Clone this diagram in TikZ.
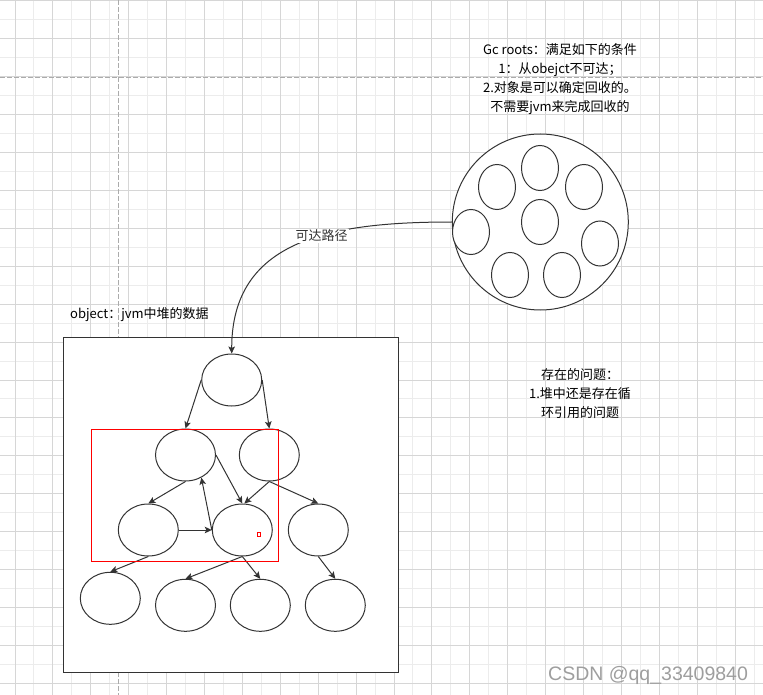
\documentclass[tikz,border=0pt]{standalone}
\usepackage{fontspec}
\setmainfont{Noto Sans CJK SC}
\newfontfamily\wmfont{Liberation Sans}
\usepackage{tikz}
\usetikzlibrary{shapes.geometric, arrows.meta, positioning}
\definecolor{griddark}{HTML}{D6D6D6}
\definecolor{gridlight}{HTML}{ECECEC}
\definecolor{pageline}{HTML}{ABABAB}
\definecolor{ink}{HTML}{333333}
\definecolor{selred}{HTML}{FF0000}

\begin{document}
\begin{tikzpicture}[x=1pt, y=-1pt,
  obj/.style={ellipse, draw=ink, fill=white, line width=1pt, minimum width=60pt, minimum height=52pt, inner sep=0pt},
  gcobj/.style={ellipse, draw=ink, fill=white, line width=1pt, minimum width=37pt, minimum height=45pt, inner sep=0pt},
  arrow/.style={-{Stealth[length=7pt, width=6.5pt, inset=1.5pt]}, line width=1pt, ink},
  note/.style={font=\fontsize{13}{19}\selectfont, align=center, inner sep=0pt},
  edgelabel/.style={font=\fontsize{13}{19}\selectfont, fill=white, inner sep=1pt}
]
  \fill[white] (0,0) rectangle (763,695);
  \useasboundingbox (0,0) rectangle (763,695);
  \foreach \k in {1,3,...,39} \draw[gridlight, line width=1pt] ({15+18.95*\k},0) -- ({15+18.95*\k},695);
  \foreach \k in {1,3,...,35} \draw[gridlight, line width=1pt] (0,{1+18.95*\k}) -- (763,{1+18.95*\k});
  \foreach \k in {0,2,...,38} \draw[griddark, line width=1pt] ({15+18.95*\k},0) -- ({15+18.95*\k},695);
  \foreach \k in {0,2,...,36} \draw[griddark, line width=1pt] (0,{1+18.95*\k}) -- (763,{1+18.95*\k});
  \draw[pageline, line width=1pt, dash pattern=on 5pt off 2pt] (118.3,0) -- (118.3,695);
  \draw[pageline, line width=1pt, dash pattern=on 5pt off 2pt] (0,77.3) -- (763,77.3);

  \node[draw=ink, fill=white, line width=1pt, minimum width=335pt, minimum height=335pt, inner sep=0pt] (heap) at (230.8,504.8) {};
  \node[circle, draw=ink, fill=white, line width=1pt, minimum size=176pt, inner sep=0pt] (gcroots) at (540.3,222) {};
  \node[gcobj] (gc1) at (540,168) {};
  \node[gcobj] (gc2) at (497,187) {};
  \node[gcobj] (gc3) at (584,187) {};
  \node[gcobj] (gc4) at (540,222) {};
  \node[gcobj] (gc5) at (471,232) {};
  \node[gcobj] (gc6) at (600,243.5) {};
  \node[gcobj] (gc7) at (510,275) {};
  \node[gcobj] (gc8) at (562,275) {};

  \node[obj] (root) at (231.7,380) {};
  \node[obj] (l1a) at (185.5,455) {};
  \node[obj] (l1b) at (269.3,455) {};
  \node[obj] (l2a) at (148.3,530) {};
  \node[obj] (l2b) at (242.3,530) {};
  \node[obj] (l2c) at (318.3,530) {};
  \node[obj] (l3a) at (110.3,598.3) {};
  \node[obj] (l3b) at (185.5,605.3) {};
  \node[obj] (l3c) at (260.3,605.3) {};
  \node[obj] (l3d) at (335.3,605.3) {};

  \draw[arrow] (gcroots.west) .. controls (330,222) and (231.7,240) .. node[pos=0.4, edgelabel] {可达路径} (root.north);
  \draw[arrow] (root.west) -- (l1a.north);
  \draw[arrow] (root.east) -- (l1b.north);
  \draw[arrow] (l1a.east) -- (l2b.north);
  \draw[arrow] (l1b.south) -- ([xshift=2pt]l2b.north);
  \draw[arrow] (l1b.south) -- (l2c.north);
  \draw[arrow] (l1a.south) -- (l2a.north);
  \draw[arrow] (l2b.west) -- (l1a.-55);
  \draw[arrow] (l2a.east) -- (l2b.west);
  \draw[arrow] (l2a.south) -- (l3a.north);
  \draw[arrow] (l2b.south) -- (l3b.north);
  \draw[arrow] (l2b.south) -- (l3c.north);
  \draw[arrow] (l2c.south) -- (l3d.north);

  \draw[selred, line width=1pt] (91.3,429.3) rectangle (278.3,561);
  \draw[selred, line width=0.8pt, fill=white] (257.3,532.6) rectangle (260.7,536);

  \node[note] (gctext) at (560,79) {Gc roots：满足如下的条件\\1：从obejct不可达；\\2.对象是可以确定回收的。\\不需要jvm来完成回收的};
  \node[note, anchor=west] (heaptext) at (70,315) {object：jvm中堆的数据};
  \node[note] (issue) at (580,394) {存在的问题：\\1.堆中还是存在循\\环引用的问题};
  \node[inner sep=0pt, anchor=west, text=black!38, font=\wmfont\fontsize{19.5}{22}\selectfont] (mark) at (548,675) {CSDN @qq\_33409840};
\end{tikzpicture}
\end{document}
